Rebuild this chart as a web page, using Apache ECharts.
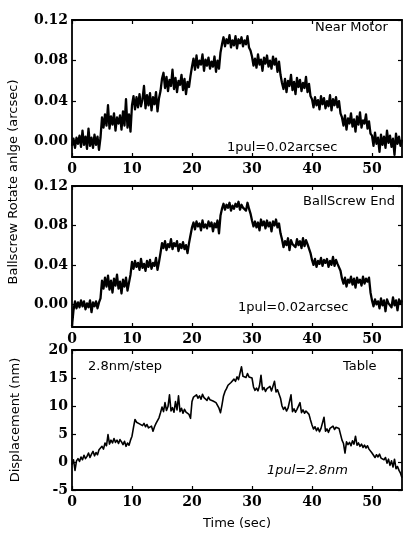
<!DOCTYPE html>
<html>
<head>
<meta charset="utf-8">
<script src="https://cdn.jsdelivr.net/npm/echarts@6/dist/echarts.min.js"></script>
<style>
html,body{margin:0;padding:0;background:#fff;}
#chart{width:403px;height:534px;}
</style>
</head>
<body>
<div id="chart"></div>
<script>
// sampling interval of the traces (s)
const timeStep = 0.25;
const timeTicks = [0, 10, 20, 30, 40, 50];
const angleTicks = [0, 0.04, 0.08, 0.12];
const dispTicks = [-5, 0, 5, 10, 15, 20];

// Panel 1: Near Motor (arcsec), one value every 0.25 s
const nearMotor = [
-0.004,0.003,-0.006,0.004,-0.002,0.006,-0.005,0.011,-0.003,0.005,-0.007,0.013,-0.004,0.004,-0.006,0.007,-0.003,0.005,-0.008,0.004,
0.024,0.014,0.027,0.016,0.036,0.013,0.025,0.017,0.028,0.011,0.024,0.018,0.026,0.012,0.030,0.016,0.042,0.014,0.027,0.010,
0.036,0.045,0.032,0.044,0.034,0.047,0.035,0.042,0.055,0.033,0.046,0.036,0.048,0.031,0.044,0.037,0.049,0.030,0.043,0.050,
0.062,0.068,0.053,0.064,0.050,0.061,0.055,0.071,0.052,0.063,0.049,0.060,0.056,0.066,0.051,0.062,0.047,0.059,0.054,0.065,
0.074,0.082,0.071,0.085,0.073,0.080,0.076,0.086,0.070,0.081,0.075,0.083,0.072,0.079,0.074,0.084,0.069,0.080,0.072,0.088,
0.096,0.103,0.094,0.101,0.097,0.105,0.093,0.100,0.095,0.104,0.092,0.101,0.097,0.103,0.094,0.100,0.096,0.104,0.093,0.090,
0.084,0.075,0.082,0.073,0.086,0.076,0.081,0.070,0.083,0.077,0.085,0.074,0.080,0.072,0.084,0.076,0.082,0.069,0.079,0.066,
0.058,0.052,0.062,0.049,0.060,0.055,0.066,0.051,0.059,0.047,0.063,0.054,0.061,0.050,0.058,0.053,0.064,0.049,0.057,0.045,
0.042,0.034,0.044,0.036,0.041,0.032,0.045,0.037,0.043,0.033,0.040,0.035,0.046,0.031,0.042,0.036,0.044,0.034,0.040,0.028,
0.024,0.016,0.026,0.012,0.023,0.018,0.028,0.015,0.022,0.010,0.025,0.017,0.029,0.014,0.021,0.018,0.027,0.013,0.020,0.008,
0.006,-0.004,0.009,-0.002,0.004,-0.010,0.007,-0.003,0.005,-0.006,0.011,-0.001,0.006,-0.005,0.003,-0.013,0.008,-0.002,0.005,-0.004,0.002
];

// Panel 2: BallScrew End (arcsec)
const ballscrewEnd = [
-0.022,-0.006,0.003,-0.004,0.002,-0.003,0.004,-0.002,0.003,-0.005,0.001,-0.003,0.004,-0.008,0.002,-0.002,0.003,-0.004,0.002,0.006,
0.024,0.016,0.027,0.018,0.029,0.015,0.024,0.012,0.026,0.019,0.030,0.016,0.023,0.011,0.025,0.018,0.027,0.014,0.022,0.030,
0.043,0.036,0.044,0.038,0.042,0.035,0.046,0.037,0.041,0.034,0.044,0.038,0.045,0.036,0.042,0.039,0.047,0.035,0.043,0.052,
0.062,0.057,0.064,0.055,0.061,0.058,0.066,0.056,0.062,0.059,0.064,0.054,0.061,0.057,0.063,0.056,0.060,0.052,0.062,0.070,
0.078,0.083,0.076,0.084,0.079,0.082,0.075,0.085,0.078,0.081,0.077,0.084,0.079,0.083,0.074,0.082,0.078,0.085,0.072,0.090,
0.097,0.102,0.096,0.101,0.098,0.103,0.095,0.100,0.097,0.102,0.099,0.104,0.096,0.101,0.098,0.100,0.095,0.103,0.097,0.092,
0.085,0.079,0.084,0.078,0.083,0.075,0.086,0.080,0.084,0.077,0.085,0.079,0.083,0.074,0.084,0.080,0.086,0.078,0.082,0.072,
0.066,0.058,0.064,0.060,0.067,0.055,0.065,0.061,0.063,0.058,0.066,0.060,0.064,0.057,0.067,0.059,0.065,0.061,0.063,0.052,
0.045,0.040,0.046,0.038,0.044,0.041,0.047,0.039,0.045,0.042,0.046,0.038,0.044,0.040,0.048,0.039,0.045,0.041,0.043,0.034,
0.026,0.021,0.027,0.018,0.025,0.022,0.028,0.020,0.026,0.017,0.027,0.022,0.025,0.019,0.028,0.021,0.026,0.023,0.027,0.012,
0.004,-0.002,0.005,0.000,0.003,-0.004,0.006,-0.001,0.004,-0.007,0.005,0.001,0.003,-0.003,0.007,-0.001,0.004,-0.006,0.005,0.001,0.004
];

// Panel 3: Table displacement (nm)
const tableDisp = [
-0.5,0.4,-1.5,0.2,0.6,0.1,0.9,0.4,1.2,0.6,1.0,1.6,0.8,1.4,1.9,1.1,1.7,1.3,2.2,1.9,
2.8,2.3,3.4,2.9,4.9,3.2,3.9,3.4,4.2,3.5,3.9,3.3,4.0,3.6,3.1,3.7,2.8,3.4,3.0,3.9,
4.6,6.2,7.6,7.1,7.4,6.8,7.0,6.5,6.9,6.3,6.7,6.1,5.8,6.4,5.5,6.3,6.9,7.4,7.9,8.8,
9.8,9.0,10.6,9.2,9.9,12.0,9.1,9.7,8.9,10.8,9.3,11.8,9.0,9.6,8.7,9.4,8.9,9.2,8.5,7.8,
10.8,11.6,11.3,12.0,11.4,11.8,11.2,12.1,11.5,11.7,11.0,11.6,11.1,11.4,10.9,11.2,10.6,10.3,9.6,8.8,
10.2,11.8,12.6,13.1,13.7,13.4,14.2,14.0,14.8,14.4,15.2,14.7,15.0,17.0,15.3,15.6,15.1,15.8,15.2,15.5,
15.0,13.4,12.8,13.2,12.7,13.6,15.5,12.9,13.3,12.6,13.1,12.8,13.5,12.7,13.0,14.4,12.5,12.9,12.6,11.4,
10.0,9.4,9.8,9.1,9.6,9.3,12.0,9.0,9.5,8.9,9.4,9.2,10.6,8.8,9.3,8.7,9.1,8.9,8.5,7.5,
6.6,5.9,6.3,5.6,6.1,5.4,6.0,5.8,8.0,5.5,5.9,5.3,6.0,5.7,6.4,5.8,6.2,6.5,6.0,5.9,
3.9,3.3,1.6,3.6,3.1,3.5,2.9,3.8,3.2,4.6,3.0,3.4,2.8,3.2,2.6,3.0,2.5,2.9,2.3,2.0,
1.6,1.2,0.8,1.3,0.9,1.4,0.7,1.0,0.4,0.8,-0.2,0.5,-0.6,0.2,-0.9,0.5,-1.2,-0.8,-1.5,-2.0,-2.8
];

const toPairs = arr => arr.map((v, i) => [i * timeStep, v]);

const chart = echarts.init(document.getElementById('chart'), null, {renderer: 'canvas'});

const labelFont = {fontFamily: 'DejaVu Serif', fontWeight: 'bold', fontSize: 14, color: '#000'};
const sansFont = 'DejaVu Sans';

const grids = [
  {left: 72, right: 1, top: 20, height: 137},
  {left: 72, right: 1, top: 186, height: 141},
  {left: 72, right: 1, top: 350, height: 140}
];
const yRanges = [
  {min: -0.015, max: 0.12, ticks: angleTicks, fmt: v => v.toFixed(2)},
  {min: -0.023, max: 0.12, ticks: angleTicks, fmt: v => v.toFixed(2)},
  {min: -5, max: 20, ticks: dispTicks, fmt: v => String(v)}
];

const xAxes = [], yAxes = [];
for (let g = 0; g < 3; g++) {
  xAxes.push({
    type: 'value', gridIndex: g, min: 0, max: 55, position: 'bottom',
    axisLine: {show: true, onZero: false, lineStyle: {color: '#000', width: 1.8}},
    axisTick: {show: true, inside: true, length: 4, customValues: timeTicks, lineStyle: {color: '#000', width: 1.2}},
    axisLabel: Object.assign({show: true, margin: 5, customValues: timeTicks}, labelFont),
    splitLine: {show: false},
    name: g === 2 ? 'Time (sec)' : '', nameLocation: 'middle', nameGap: 27,
    nameTextStyle: {fontFamily: sansFont, fontSize: 13, color: '#000'}
  });
  yAxes.push({
    type: 'value', gridIndex: g, min: yRanges[g].min, max: yRanges[g].max, position: 'left',
    axisLine: {show: true, onZero: false, lineStyle: {color: '#000', width: 1.8}},
    axisTick: {show: true, inside: true, length: 4, customValues: yRanges[g].ticks, lineStyle: {color: '#000', width: 1.2}},
    axisLabel: Object.assign({show: true, margin: 4, customValues: yRanges[g].ticks, formatter: yRanges[g].fmt}, labelFont),
    splitLine: {show: false},
    name: g === 2 ? 'Displacement (nm)' : '', nameLocation: 'middle', nameGap: 50,
    nameTextStyle: {fontFamily: sansFont, fontSize: 13, color: '#000'}
  });
}
// mirrored top / right axes for the frame ticks
for (let g = 0; g < 3; g++) {
  xAxes.push({
    type: 'value', gridIndex: g, min: 0, max: 55, position: 'top',
    axisLine: {show: true, onZero: false, lineStyle: {color: '#000', width: 1.8}},
    axisTick: {show: true, inside: true, length: 4, customValues: timeTicks, lineStyle: {color: '#000', width: 1.2}},
    axisLabel: {show: false}, splitLine: {show: false}
  });
  yAxes.push({
    type: 'value', gridIndex: g, min: yRanges[g].min, max: yRanges[g].max, position: 'right',
    axisLine: {show: true, onZero: false, lineStyle: {color: '#000', width: 1.8}},
    axisTick: {show: true, inside: true, length: 4, customValues: yRanges[g].ticks, lineStyle: {color: '#000', width: 1.2}},
    axisLabel: {show: false}, splitLine: {show: false}
  });
}

const traces = [nearMotor, ballscrewEnd, tableDisp];
const series = traces.map((arr, g) => ({
  type: 'line', xAxisIndex: g, yAxisIndex: g, data: toPairs(arr),
  showSymbol: false, symbol: 'none', animation: false,
  lineStyle: {color: '#000', width: g === 2 ? 1.6 : 2.3, join: 'round'}
}));

const txt = (x, y, text, opts) => ({
  type: 'text', x: x, y: y,
  style: Object.assign({text: text, fontFamily: sansFont, fontSize: 13, fill: '#000', textVerticalAlign: 'middle'}, opts || {})
});

chart.setOption({
  backgroundColor: '#fff',
  animation: false,
  grid: grids,
  xAxis: xAxes,
  yAxis: yAxes,
  series: series,
  graphic: [
    txt(315, 28, 'Near Motor'),
    txt(227, 148, '1pul=0.02arcsec'),
    txt(303, 202, 'BallScrew End'),
    txt(238, 308, '1pul=0.02arcsec'),
    txt(88, 367, '2.8nm/step'),
    txt(343, 367, 'Table'),
    txt(267, 471, '1pul=2.8nm', {fontStyle: 'italic'}),
    {
      type: 'text', x: 14, y: 182, rotation: Math.PI / 2,
      style: {text: 'Ballscrew Rotate anlge (arcsec)', fontFamily: sansFont, fontSize: 13, fill: '#000',
              textAlign: 'center', textVerticalAlign: 'middle'}
    }
  ]
});
</script>
</body>
</html>
